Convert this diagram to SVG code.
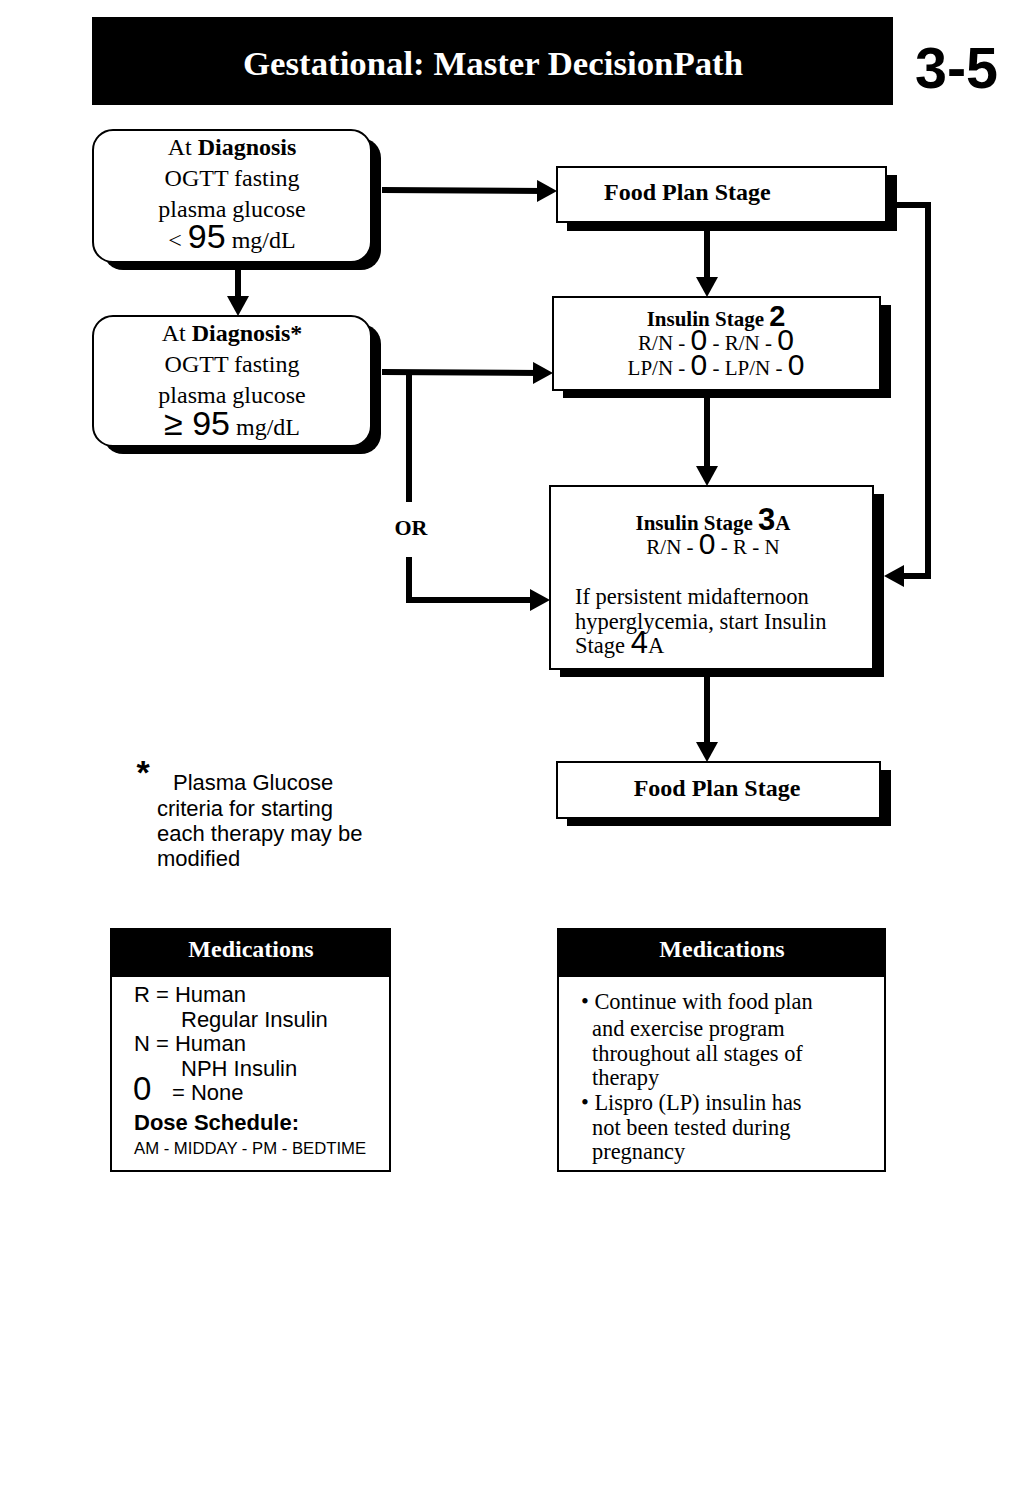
<svg xmlns="http://www.w3.org/2000/svg" width="1023" height="1488" viewBox="0 0 1023 1488">
<style>
.s{font-family:"Liberation Serif","Times New Roman",serif;fill:#000}
.a{font-family:"Liberation Sans",Arial,sans-serif;fill:#000}
.b{font-weight:bold}
.box{fill:#fff;stroke:#000;stroke-width:2}
.sh{fill:#000}
.c{fill:none;stroke:#000;stroke-width:6}
</style>
<defs>
<marker id="ah" viewBox="0 0 20 22" refX="8" refY="11" markerWidth="20" markerHeight="22" markerUnits="userSpaceOnUse" orient="auto">
<path d="M0,0 L20,11 L0,22 z" fill="#000"/>
</marker>
</defs>
<rect width="1023" height="1488" fill="#fff"/>
<g id="header">
<rect x="92" y="17" width="801" height="88" fill="#000"/>
<text x="243" y="75" class="s b" font-size="34" textLength="500" lengthAdjust="spacingAndGlyphs" style="fill:#fff">Gestational: Master DecisionPath</text>
<text x="915" y="88" class="a b" font-size="58" textLength="83" lengthAdjust="spacingAndGlyphs">3-5</text>
</g>
<g id="connectors">
<path class="c" d="M238,262 V304" marker-end="url(#ah)"/>
<path class="c" d="M382,190 L545,191" marker-end="url(#ah)"/>
<path class="c" d="M382,372 L541,373" marker-end="url(#ah)"/>
<path class="c" d="M409,372 V502"/>
<path class="c" d="M409,557 V600 H538" marker-end="url(#ah)"/>
<path class="c" d="M707,231 V285" marker-end="url(#ah)"/>
<path class="c" d="M707,398 V474" marker-end="url(#ah)"/>
<path class="c" d="M707,677 V750" marker-end="url(#ah)"/>
<path class="c" d="M897,205 H928 V576 H896" marker-end="url(#ah)"/>
<text x="411" y="535" text-anchor="middle" class="s b" font-size="22">OR</text>
</g>
<g id="diag1">
<rect x="103" y="138" width="278" height="132" rx="20" class="sh"/>
<rect x="93" y="130" width="278" height="132" rx="20" class="box"/>
<text x="232" y="155" text-anchor="middle" class="s" font-size="24">At <tspan class="b">Diagnosis</tspan></text>
<text x="232" y="186" text-anchor="middle" class="s" font-size="24">OGTT fasting</text>
<text x="232" y="217" text-anchor="middle" class="s" font-size="24">plasma glucose</text>
<text x="232" y="248" text-anchor="middle" class="s" font-size="24">&lt; <tspan class="a" font-size="34">95</tspan> mg/dL</text>
</g>
<g id="diag2">
<rect x="103" y="324" width="278" height="130" rx="20" class="sh"/>
<rect x="93" y="316" width="278" height="130" rx="20" class="box"/>
<text x="232" y="341" text-anchor="middle" class="s" font-size="24">At <tspan class="b">Diagnosis*</tspan></text>
<text x="232" y="372" text-anchor="middle" class="s" font-size="24">OGTT fasting</text>
<text x="232" y="403" text-anchor="middle" class="s" font-size="24">plasma glucose</text>
<text x="232" y="435" text-anchor="middle" class="s" font-size="24"><tspan class="a" font-size="34">≥ 95</tspan> mg/dL</text>
</g>
<g id="food1">
<rect x="567" y="175" width="330" height="56" class="sh"/>
<rect x="557" y="167" width="329" height="55" class="box"/>
<text x="604" y="200" class="s b" font-size="24">Food Plan Stage</text>
</g>
<g id="ins2">
<rect x="563" y="305" width="328" height="93" class="sh"/>
<rect x="553" y="297" width="327" height="93" class="box"/>
<text x="716" y="326" text-anchor="middle" class="s b" font-size="21">Insulin Stage <tspan class="a" font-size="29">2</tspan></text>
<text x="716" y="350" text-anchor="middle" class="s" font-size="21">R/N - <tspan class="a" font-size="30">0</tspan> - R/N - <tspan class="a" font-size="30">0</tspan></text>
<text x="716" y="375" text-anchor="middle" class="s" font-size="21">LP/N - <tspan class="a" font-size="30">0</tspan> - LP/N - <tspan class="a" font-size="30">0</tspan></text>
</g>
<g id="ins3a">
<rect x="560" y="494" width="324" height="183" class="sh"/>
<rect x="550" y="486" width="323" height="183" class="box"/>
<text x="713" y="530" text-anchor="middle" class="s b" font-size="21">Insulin Stage <tspan class="a" font-size="31">3</tspan>A</text>
<text x="713" y="554" text-anchor="middle" class="s" font-size="21">R/N - <tspan class="a" font-size="30">0</tspan> - R - N</text>
<text x="575" y="604" class="s" font-size="22.5">If persistent midafternoon</text>
<text x="575" y="629" class="s" font-size="22.5">hyperglycemia, start Insulin</text>
<text x="575" y="653" class="s" font-size="22.5">Stage <tspan class="a" font-size="31">4</tspan>A</text>
</g>
<g id="food2">
<rect x="567" y="770" width="324" height="56" class="sh"/>
<rect x="557" y="762" width="323" height="56" class="box"/>
<text x="717" y="796" text-anchor="middle" class="s b" font-size="24">Food Plan Stage</text>
</g>
<g id="note">
<text x="143" y="784" text-anchor="middle" class="a b" font-size="34">*</text>
<text x="173" y="790" class="a" font-size="22">Plasma Glucose</text>
<text x="157" y="816" class="a" font-size="22">criteria for starting</text>
<text x="157" y="841" class="a" font-size="22">each therapy may be</text>
<text x="157" y="866" class="a" font-size="22">modified</text>
</g>
<g id="meds1">
<rect x="111" y="929" width="279" height="242" class="box"/>
<rect x="111" y="929" width="279" height="48" fill="#000"/>
<text x="251" y="957" text-anchor="middle" class="s b" font-size="24" style="fill:#fff">Medications</text>
<text x="134" y="1002" class="a" font-size="22">R = Human</text>
<text x="181" y="1027" class="a" font-size="22">Regular Insulin</text>
<text x="134" y="1051" class="a" font-size="22">N = Human</text>
<text x="181" y="1076" class="a" font-size="22">NPH Insulin</text>
<text x="133" y="1100" class="a" font-size="33">0</text>
<text x="172" y="1100" class="a" font-size="22">= None</text>
<text x="134" y="1130" class="a b" font-size="22">Dose Schedule:</text>
<text x="134" y="1154" class="a" font-size="16.7">AM - MIDDAY - PM - BEDTIME</text>
</g>
<g id="meds2">
<rect x="558" y="929" width="327" height="242" class="box"/>
<rect x="558" y="929" width="327" height="48" fill="#000"/>
<text x="722" y="957" text-anchor="middle" class="s b" font-size="24" style="fill:#fff">Medications</text>
<text x="581" y="1009" class="s" font-size="22.4">• Continue with food plan</text>
<text x="592" y="1036" class="s" font-size="22.4">and exercise program</text>
<text x="592" y="1061" class="s" font-size="22.4">throughout all stages of</text>
<text x="592" y="1085" class="s" font-size="22.4">therapy</text>
<text x="581" y="1110" class="s" font-size="22.4">• Lispro (LP) insulin has</text>
<text x="592" y="1135" class="s" font-size="22.4">not been tested during</text>
<text x="592" y="1159" class="s" font-size="22.4">pregnancy</text>
</g>
</svg>
